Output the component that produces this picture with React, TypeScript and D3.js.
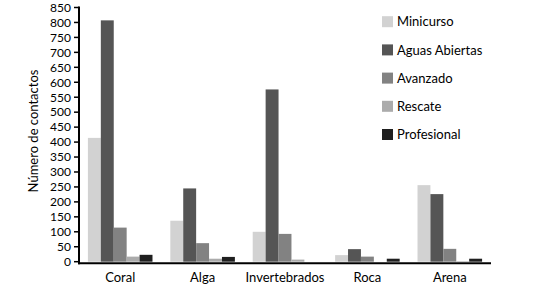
import React from 'react';
import * as d3 from 'd3';

const categories = ['Coral', 'Alga', 'Invertebrados', 'Roca', 'Arena'];
const series = ['Minicurso', 'Aguas Abiertas', 'Avanzado', 'Rescate', 'Profesional'];
const minicurso = [414, 137, 100, 22, 256];
const aguasAbiertas = [807, 245, 576, 42, 226];
const avanzado = [114, 62, 93, 17, 43];
const rescate = [17, 10, 7, 0, 2];
const profesional = [23, 16, 0, 10, 10];
const yTicks = d3.range(0, 851, 50);

const values = [minicurso, aguasAbiertas, avanzado, rescate, profesional];
const colors = ['#d2d2d2', '#555555', '#828282', '#ababab', '#1f1f1f'];

const width = 551;
const height = 290;
const font = 'Lato, "Open Sans", sans-serif';

export default function App() {
  const x = d3.scaleBand().domain(categories).range([79, 491]);
  const xInner = d3
    .scaleBand()
    .domain(series)
    .range([0, x.bandwidth()])
    .paddingOuter(0.69);
  const y = d3.scaleLinear().domain([0, 850]).range([261.7, 7.5]);

  const table = categories.flatMap((c, ci) =>
    series.map((s, si) => ({ c, s, si, v: values[si][ci] }))
  );

  return (
    <svg
      width={width}
      height={height}
      style={{ position: 'absolute', left: 0, top: 0, background: '#fff' }}
      fontFamily={font}
    >
      {table
        .filter(d => d.v > 0)
        .map(d => (
          <rect
            key={d.c + d.s}
            x={(x(d.c) as number) + (xInner(d.s) as number)}
            y={y(d.v)}
            width={xInner.bandwidth()}
            height={y(0) - y(d.v)}
            fill={colors[d.si]}
          />
        ))}

      {/* y axis */}
      <line x1={79} x2={79} y1={y(850) - 1} y2={y(0) + 2.5} stroke="#000" strokeWidth={2} />
      {yTicks.map(t => (
        <g key={t}>
          <line x1={74} x2={79} y1={y(t)} y2={y(t)} stroke="#000" strokeWidth={1.5} />
          <text
            x={71}
            y={y(t)}
            dy="0.36em"
            textAnchor="end"
            fontSize={12}
            fill="#000"
          >
            {t}
          </text>
        </g>
      ))}

      {/* x axis */}
      <line x1={78} x2={491} y1={y(0) + 1.5} y2={y(0) + 1.5} stroke="#000" strokeWidth={2} />
      {categories.map(c => (
        <text
          key={c}
          x={(x(c) as number) + x.bandwidth() / 2}
          y={277}
          dy="0.36em"
          textAnchor="middle"
          fontSize={13}
          fill="#000"
        >
          {c}
        </text>
      ))}

      <text
        transform={`translate(33,131) rotate(-90)`}
        textAnchor="middle"
        dy="0.36em"
        fontSize={13}
        fill="#000"
      >
        Número de contactos
      </text>

      {/* legend */}
      {series.map((s, i) => (
        <g key={s} transform={`translate(382,${21.7 + i * 28.2})`}>
          <rect x={0} y={-5.5} width={11} height={11} fill={colors[i]} />
          <text x={15} dy="0.36em" fontSize={13} fill="#000">
            {s}
          </text>
        </g>
      ))}
    </svg>
  );
}
